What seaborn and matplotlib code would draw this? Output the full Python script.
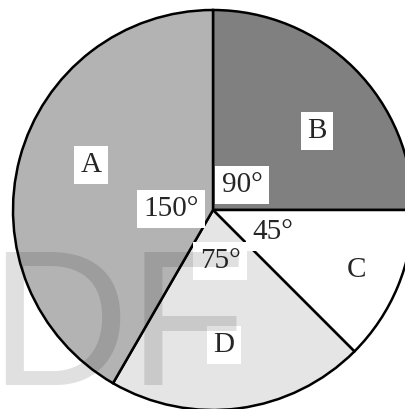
import matplotlib
matplotlib.use("Agg")
import matplotlib.pyplot as plt
import seaborn as sns

# Data: sectors in drawing order (clockwise from 12 o'clock)
sectors = ["B", "C", "D", "A"]
degrees = [90, 45, 75, 150]
colors = ["#808080", "#ffffff", "#e5e5e5", "#b3b3b3"]

# label positions (pie radius = 1)
name_pos = {"A": (-0.61, 0.225), "B": (0.52, 0.395), "C": (0.715, -0.30), "D": (0.055, -0.675)}
angle_pos = {"B": (0.145, 0.125), "A": (-0.21, 0.005), "C": (0.30, -0.11), "D": (0.035, -0.255)}

sns.set_theme(style="white")
plt.rcParams["font.family"] = ["Liberation Serif", "DejaVu Serif"]

fig = plt.figure(figsize=(4.05, 4.09), dpi=100)
ax = fig.add_axes([0, 0, 1, 1])

ax.pie(degrees, colors=colors, startangle=90, counterclock=False,
       wedgeprops=dict(edgecolor="black", linewidth=1.8), radius=1.0)

box = dict(boxstyle="square,pad=0.22", facecolor="white", edgecolor="none")
for name in sectors:
    x, y = name_pos[name]
    ax.text(x, y, name, fontsize=21, ha="center", va="center", bbox=box, zorder=5)
for name, deg in zip(sectors, degrees):
    x, y = angle_pos[name]
    ax.text(x, y, f"{deg}°", fontsize=21, ha="center", va="center", bbox=box, zorder=5)

# watermark
ax.text(-1.12, -0.875, "DF", fontsize=139, family="Liberation Sans",
        color="black", alpha=0.12, ha="left", va="baseline", zorder=10)

ax.set_xlim(-1.065, 0.96)
ax.set_ylim(-0.995, 1.05)
ax.set_aspect("auto")
ax.axis("off")

fig.savefig("out.png", dpi=100)
